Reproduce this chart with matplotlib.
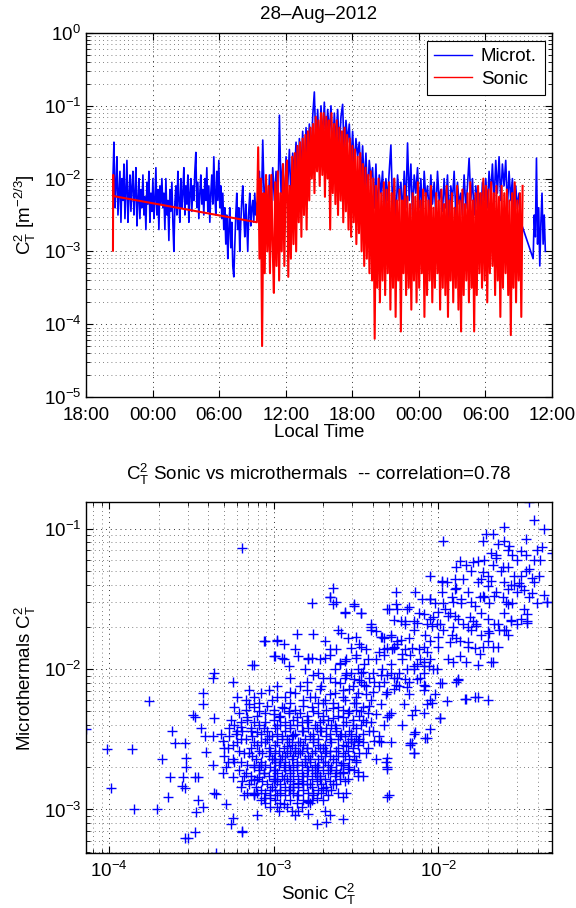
import numpy as np
import matplotlib
matplotlib.use("Agg")
import matplotlib.pyplot as plt
from matplotlib.ticker import LogLocator, NullFormatter, NullLocator

plt.rcParams['font.family'] = ['Liberation Sans', 'DejaVu Sans']
plt.rcParams['mathtext.default'] = 'regular'
plt.rcParams['font.size'] = 13.5

# ---- time series (log10 of C_T^2), time in hours after 18:00 of the day before ----
time_ticks = [0, 6, 12, 18, 24, 30, 36, 42]
time_labels = ["18:00", "00:00", "06:00", "12:00", "18:00", "00:00", "06:00", "12:00"]

# microthermals, night part (20:25 -> 09:25), denser sampling
microt_night_start, microt_night_step = 2.43, 0.09
microt_night_log = [
    -2.0, -1.5, -2.4, -2.1, -1.7, -2.5, -2.2, -1.9, -2.6, -2.0,
    -2.3, -1.8, -2.55, -2.15, -1.75, -2.6, -2.25, -1.95, -2.45, -2.1,
    -1.9, -2.5, -2.2, -1.85, -2.65, -2.3, -2.0, -2.55, -2.15, -2.4,
    -1.95, -2.5, -2.25, -2.7, -2.05, -2.35, -1.9, -2.6, -2.2, -2.45,
    -2.0, -2.55, -2.3, -1.85, -2.5, -2.15, -2.7, -2.1, -2.35, -2.0,
    -2.4, -2.2, -2.7, -2.0, -2.5, -2.3, -2.85, -2.15, -2.45, -2.05,
    -2.6, -3.0, -2.35, -2.1, -2.5, -1.9, -2.3, -2.6, -2.0, -2.4,
    -2.2, -1.85, -2.5, -2.1, -2.35, -1.95, -2.6, -2.2, -2.0, -2.45,
    -2.1, -2.3, -1.9, -1.64, -2.4, -2.05, -2.55, -2.2, -1.95, -2.35,
    -2.15, -2.5, -2.0, -2.3, -1.85, -2.45, -2.1, -2.6, -2.2, -1.95,
    -2.35, -1.7, -2.2, -2.5, -1.9, -2.3, -1.75, -2.4, -2.1, -2.55,
    -2.2, -2.7, -2.4, -2.9, -2.5, -3.1, -2.7, -2.4, -2.95, -2.6,
    -3.2, -3.35, -2.9, -2.5, -2.2, -2.7, -2.4, -3.0, -2.6, -2.3,
    -2.1, -2.5, -2.8, -2.35, -2.6, -3.0, -2.45, -2.2, -2.65, -2.4,
    -2.3, -2.6, -2.2, -2.5, -2.35,
]
# microthermals, day and following night (09:30 -> 09:20)
microt_day_start, microt_day_step = 15.48, 0.15
microt_day_log = [
    -2.3, -1.9, -2.6, -1.47, -2.4, -2.0, -2.8, -1.95,
    -2.5, -1.85, -2.3, -1.9, -2.6, -1.13, -2.2, -1.8,
    -2.4, -1.7, -2.1, -1.6, -2.3, -1.65, -2.0, -1.5,
    -2.2, -1.45, -1.9, -1.35, -2.1, -1.3, -1.8, -1.25,
    -1.9, -1.15, -0.81, -1.6, -1.05, -1.7, -1.0, -1.5,
    -0.95, -1.6, -1.05, -1.4, -1.0, -1.7, -1.1, -1.5,
    -1.05, -1.6, -1.15, -0.98, -1.7, -1.2, -1.5, -1.25,
    -1.8, -1.35, -1.9, -1.45, -1.7, -1.5, -2.0, -1.55,
    -2.1, -1.65, -2.3, -1.75, -2.0, -1.85, -2.4, -1.8,
    -2.5, -1.95, -2.2, -1.9, -2.6, -2.0, -2.3, -1.9,
    -1.54, -2.4, -2.0, -2.6, -1.95, -2.3, -2.05, -2.5,
    -1.9, -2.4, -1.51, -2.3, -1.8, -2.5, -1.95, -2.2,
    -1.85, -2.4, -2.0, -2.6, -1.9, -2.3, -2.1, -2.5,
    -1.95, -2.35, -2.05, -2.5, -1.9, -2.3, -2.15, -2.45,
    -2.0, -2.4, -1.95, -2.6, -2.1, -2.3, -1.9, -2.5,
    -2.05, -2.35, -2.2, -2.5, -1.95, -2.4, -2.1, -1.72,
    -2.3, -2.0, -2.5, -2.1, -2.4, -2.2, -2.55, -2.05,
    -2.3, -2.0, -2.4, -1.9, -2.25, -1.8, -2.35, -1.75,
    -2.2, -1.7, -2.3, -1.8, -2.1, -1.75, -2.4, -1.9,
    -2.3, -2.0, -2.5, -2.1, -2.4, -2.2, -2.6, -2.66,
]
# last piece after the gap (about 10:20-11:25)
microt_tail_start, microt_tail_step = 40.3, 0.1
microt_tail_log = [-3.1, -2.5, -2.8, -1.72, -2.9, -2.4, -3.2, -2.6, -2.2, -2.9, -2.5, -3.0]

# sonic: three early samples, then a gap, then dense data 09:24 -> 09:21 next day
sonic_early_t = [2.43, 2.45, 2.47]
sonic_early_log = [-2.99, -1.95, -2.24]
sonic_start, sonic_end = 15.4, 39.35
sonic_log = [
    -2.6, -1.57, -3.1, -2.0, -4.3, -2.2, -3.3, -1.95, -3.0, -2.1,
    -3.3, -1.95, -2.9, -3.57, -2.05, -3.2, -1.9, -3.4, -2.2, -3.0,
    -1.8, -3.2, -2.0, -1.75, -3.35, -2.1, -3.1, -1.7, -2.9, -1.65,
    -3.0, -1.55, -2.6, -1.5, -2.8, -1.45, -2.5, -1.4, -2.7, -1.35,
    -2.3, -1.3, -2.0, -1.25, -2.2, -1.15, -1.9, -1.2, -2.1, -1.1,
    -1.95, -1.1, -2.25, -1.15, -2.0, -1.2, -2.7, -1.1, -2.2, -1.25,
    -2.35, -1.2, -2.5, -1.3, -2.3, -1.35, -2.6, -1.3, -2.45, -1.4,
    -2.7, -1.45, -2.8, -1.55, -2.6, -1.6, -2.9, -1.7, -2.75, -1.65,
    -3.0, -1.8, -3.2, -1.85, -3.1, -1.95, -3.3, -1.9, -3.4, -2.0,
    -4.2, -2.1, -3.5, -2.0, -3.7, -2.2, -3.4, -2.05, -3.6, -2.15,
    -3.3, -2.05, -3.8, -2.2, -3.5, -2.0, -3.9, -2.3, -3.4, -2.15,
    -4.1, -2.3, -3.3, -2.1, -3.6, -2.25, -3.5, -2.35, -3.8, -2.2,
    -3.4, -2.25, -3.7, -2.05, -3.5, -2.3, -3.3, -2.15, -3.9, -2.2,
    -3.6, -2.3, -3.4, -2.1, -3.7, -2.4, -3.5, -2.2, -3.3, -2.3,
    -3.8, -2.15, -3.5, -2.35, -3.6, -2.1, -3.9, -2.3, -3.4, -2.2,
    -3.7, -2.4, -3.5, -2.1, -3.8, -2.3, -4.1, -2.15, -3.6, -2.35,
    -3.4, -2.2, -3.7, -2.05, -3.5, -2.3, -4.1, -2.2, -3.6, -2.1,
    -3.3, -2.2, -3.5, -2.0, -3.4, -2.1, -3.7, -2.15, -3.3, -2.05,
    -3.2, -2.2, -3.6, -2.1, -3.4, -2.25, -3.9, -2.1, -3.5, -2.2,
    -3.3, -2.15, -3.6, -2.3, -4.15, -2.2, -3.5, -2.05, -3.7, -2.3,
    -3.4, -2.2, -3.9, -2.1,
]

# ---- scatter: log10 of sonic C_T^2 vs log10 of microthermal C_T^2 ----
scatter_sonic_log = [
    -3.10, -3.05, -2.98, -2.92, -2.88, -2.84, -2.80, -2.76, -2.72, -2.68,
    -2.64, -2.60, -3.15, -3.08, -3.02, -2.96, -2.90, -2.85, -2.78, -2.74,
    -2.70, -2.66, -2.62, -2.56, -2.52, -2.48, -3.20, -3.12, -3.00, -2.94,
    -2.86, -2.82, -2.76, -2.70, -2.64, -2.58, -2.54, -2.50, -2.46, -2.44,
    -3.06, -3.00, -2.94, -2.88, -2.82, -2.78, -2.72, -2.68, -2.62, -2.58,
    -3.18, -3.24, -3.28, -3.22, -3.16, -3.04, -2.98, -2.90, -2.84, -2.78,
    -2.72, -2.66, -2.60, -2.54, -2.48, -2.42, -2.40, -2.44, -2.50, -2.55,
    -3.12, -3.06, -3.00, -2.95, -2.90, -2.86, -2.80, -2.74, -2.70, -2.66,
    -2.62, -2.58, -2.53, -2.93, -2.97, -3.03, -2.83, -2.77, -2.69, -2.87,
    -3.09, -3.14, -2.99, -2.91, -2.81, -2.73, -2.65, -2.57, -2.51, -2.47,
    -3.26, -3.32, -3.30, -3.20, -3.10, -3.02, -2.96, -2.86, -2.76, -2.64,
    -2.56, -2.46, -2.38, -2.36, -2.38, -2.40, -2.46, -2.56, -2.66, -2.76,
    -4.14, -4.01, -3.86, -3.99, -3.85, -3.71, -3.76, -3.68, -3.63, -3.64,
    -3.55, -3.56, -3.54, -3.53, -3.53, -3.60, -3.54, -3.62, -3.49, -3.48,
    -3.46, -3.46, -3.47, -3.43, -3.54, -3.52, -3.48, -3.35, -3.26, -3.25,
    -3.29, -3.19, -3.36, -3.37, -3.43, -3.43, -3.48, -3.44, -3.42, -3.41,
    -3.37, -3.36, -3.35, -3.29, -3.28, -3.31, -3.25, -3.25, -3.22, -3.24,
    -3.15, -3.15, -3.27, -3.20, -3.36, -3.37, -3.31, -3.18, -3.12, -3.06,
    -3.12, -3.12, -3.09, -2.98, -2.94, -2.98, -2.85, -2.79, -2.74, -2.79,
    -2.74, -3.19,
    -2.68, -2.58, -2.69, -2.79, -2.77, -2.58, -2.31, -2.31, -2.32, -2.16,
    -2.15, -2.17, -2.14, -2.07, -2.05, -2.29, -2.35, -2.39, -2.49, -2.49,
    -2.58, -2.54, -2.74, -2.85,
    -2.77, -2.64, -2.66, -2.62, -2.57, -2.51, -2.47, -2.86, -3.06, -2.98,
    -2.94, -2.87, -2.99, -2.95, -2.85, -2.79, -2.77, -3.12, -2.91, -2.69,
    -2.61, -2.59, -2.66, -2.69, -2.53, -2.47, -2.50, -2.41, -2.41, -2.38,
    -2.57, -2.50, -2.43, -2.60, -2.36, -2.31, -2.25, -2.27, -2.20, -2.29,
    -2.34, -2.47, -2.53, -2.51, -2.45, -2.39, -2.31, -2.25, -2.27, -2.19,
    -2.13, -2.09, -2.09, -2.15, -2.06, -2.01, -1.98, -2.04, -1.99, -2.15,
    -2.08, -2.17, -2.15, -2.31, -2.31, -2.30, -2.09, -2.14, -2.29, -2.31,
    -2.41, -2.36, -2.43, -2.49, -2.53, -2.50, -2.58, -2.66, -2.60, -2.74,
    -2.70, -2.82, -2.90, -3.02, -3.12, -3.14, -3.09, -2.99,
    -1.45, -1.42, -1.36, -1.60, -1.97, -1.71, -1.67, -1.73, -1.47, -1.37,
    -1.31, -1.42, -1.64, -1.60, -1.57, -1.55, -1.50, -1.68, -1.65, -1.87,
    -1.89, -1.83, -1.79, -1.76, -1.67, -1.61, -1.58, -1.50, -1.45, -1.43,
    -1.73, -1.74, -1.85, -1.90, -2.05, -1.98, -1.68, -1.70, -1.73, -1.72,
    -1.66, -1.58, -1.56, -1.54, -1.51, -1.50, -1.59, -1.58, -1.48, -1.43,
    -1.36, -1.34, -1.90, -1.89, -1.86, -1.80, -1.78, -1.91, -1.96, -2.14,
    -2.10, -2.05, -2.31, -2.26, -2.25, -2.19, -2.18, -2.09, -2.03, -2.00,
    -2.27, -2.23, -2.15, -2.13, -2.07, -2.04, -1.99, -1.94, -1.90, -1.91,
    -1.81, -1.79, -1.77, -1.77, -1.82, -1.70, -1.69, -1.64, -1.59, -1.56,
    -1.48, -1.46, -1.46, -2.35, -2.29, -2.23, -2.16, -2.09, -2.07, -2.00,
    -1.93, -1.89, -1.82, -1.78, -1.75, -1.73, -1.67, -1.94, -1.91, -1.87,
    -1.83, -1.76, -1.68, -1.89, -2.33, -2.27, -2.22, -2.11, -2.15, -2.09,
    -2.20, -2.09, -1.99, -1.88, -1.76, -1.83, -2.29, -2.26, -2.35, -2.31,
    -3.19, -1.98, -3.13, -3.05, -2.98, -3.00, -2.94, -2.79, -2.76, -2.64,
    -2.66, -2.57, -2.51, -2.47, -2.41, -2.30, -2.20, -2.26, -2.05, -1.97,
    -1.34, -1.46, -1.56, -1.60, -1.67, -1.70, -1.78, -1.84, -1.88, -1.99,
    -1.95, -2.05,
]
scatter_microt_log = [
    -2.45, -2.52, -2.40, -2.55, -2.47, -2.60, -2.38, -2.50, -2.44, -2.58,
    -2.35, -2.48, -2.60, -2.68, -2.58, -2.66, -2.72, -2.52, -2.64, -2.70,
    -2.56, -2.62, -2.42, -2.55, -2.40, -2.50, -2.50, -2.38, -2.32, -2.28,
    -2.34, -2.26, -2.30, -2.24, -2.28, -2.20, -2.30, -2.24, -2.36, -2.18,
    -2.74, -2.80, -2.78, -2.84, -2.76, -2.82, -2.78, -2.86, -2.74, -2.68,
    -2.76, -2.66, -2.56, -2.44, -2.34, -2.26, -2.20, -2.16, -2.12, -2.20,
    -2.14, -2.18, -2.10, -2.14, -2.08, -2.26, -2.44, -2.60, -2.66, -2.78,
    -2.52, -2.42, -2.64, -2.50, -2.40, -2.68, -2.56, -2.42, -2.36, -2.50,
    -2.58, -2.34, -2.46, -2.62, -2.34, -2.48, -2.44, -2.72, -2.66, -2.58,
    -2.30, -2.44, -2.72, -2.30, -2.66, -2.54, -2.40, -2.62, -2.52, -2.30,
    -2.36, -2.46, -2.62, -2.84, -2.88, -2.92, -2.86, -2.90, -2.88, -2.82,
    -2.88, -2.76, -2.64, -2.48, -2.32, -2.16, -2.02, -2.04, -2.06, -2.04,
    -2.43, -2.57, -2.57, -2.85, -3.00, -3.00, -2.23, -2.64, -2.77, -2.91,
    -2.77, -2.83, -2.85, -2.63, -2.70, -2.53, -2.53, -2.44, -2.33, -2.77,
    -2.77, -2.93, -3.02, -2.98, -3.20, -3.20, -3.16, -3.31, -3.10, -3.06,
    -2.96, -3.15, -2.03, -2.06, -2.17, -2.25, -2.34, -2.42, -2.48, -2.59,
    -2.68, -2.88, -2.89, -2.70, -2.66, -2.74, -2.77, -2.09, -2.20, -2.27,
    -2.15, -2.25, -2.42, -2.41, -2.35, -2.48, -2.51, -2.90, -2.89, -2.92,
    -2.68, -2.79, -2.77, -2.90, -2.96, -2.98, -3.01, -3.03, -3.10, -2.95,
    -2.92, -3.16,
    -3.09, -3.07, -3.01, -2.94, -2.93, -2.91, -2.91, -2.71, -2.66, -2.53,
    -2.60, -2.54, -2.45, -2.49, -2.43, -2.52, -2.52, -2.51, -2.73, -2.76,
    -2.73, -2.71, -2.74, -2.81,
    -1.53, -1.42, -1.49, -1.52, -1.59, -1.54, -1.60, -1.75, -1.80, -1.79,
    -1.82, -1.86, -1.91, -1.92, -1.91, -1.92, -1.92, -1.97, -1.98, -1.80,
    -1.72, -1.74, -1.86, -1.92, -1.85, -1.84, -1.77, -1.68, -1.72, -1.73,
    -1.94, -1.92, -1.93, -1.96, -1.88, -1.85, -1.80, -1.84, -1.86, -1.77,
    -1.77, -2.03, -2.03, -2.07, -2.11, -2.09, -2.04, -2.06, -2.14, -2.13,
    -2.07, -2.15, -1.95, -1.98, -1.98, -2.00, -2.10, -2.24, -2.35, -2.46,
    -2.49, -2.53, -2.60, -2.63, -2.70, -2.90, -2.31, -2.29, -2.31, -2.34,
    -2.38, -2.51, -2.56, -2.51, -2.52, -2.65, -2.67, -2.72, -2.74, -2.76,
    -2.85, -2.82, -2.86, -2.86, -2.88, -2.79, -2.70, -2.78,
    -0.81, -0.94, -1.00, -0.99, -1.09, -1.04, -1.04, -1.09, -1.07, -1.13,
    -1.17, -1.22, -1.11, -1.09, -1.12, -1.19, -1.16, -1.17, -1.21, -1.23,
    -1.27, -1.26, -1.24, -1.23, -1.26, -1.27, -1.27, -1.34, -1.29, -1.35,
    -1.31, -1.36, -1.36, -1.36, -1.34, -1.37, -1.37, -1.41, -1.48, -1.49,
    -1.48, -1.43, -1.40, -1.40, -1.39, -1.41, -1.52, -1.54, -1.44, -1.46,
    -1.47, -1.52, -1.43, -1.42, -1.50, -1.52, -1.55, -1.52, -1.57, -1.45,
    -1.50, -1.50, -1.57, -1.54, -1.57, -1.57, -1.56, -1.61, -1.63, -1.59,
    -1.65, -1.66, -1.66, -1.67, -1.68, -1.69, -1.68, -1.62, -1.62, -1.70,
    -1.63, -1.66, -1.69, -1.68, -1.70, -1.73, -1.74, -1.68, -1.72, -1.65,
    -1.57, -1.61, -1.66, -1.77, -1.76, -1.79, -1.85, -1.84, -1.88, -1.77,
    -1.81, -1.78, -1.81, -1.85, -1.89, -1.84, -1.84, -1.93, -1.95, -1.91,
    -1.95, -1.97, -1.95, -2.09, -1.86, -1.85, -1.89, -1.93, -2.00, -1.98,
    -2.07, -2.11, -2.10, -2.07, -2.20, -2.21, -2.03, -2.11, -2.04, -2.16,
    -1.14, -1.38, -1.97, -1.80, -1.80, -1.91, -1.93, -1.93, -1.75, -1.54,
    -1.49, -1.60, -1.55, -1.60, -1.70, -1.57, -1.66, -1.45, -1.50, -1.53,
    -1.52, -1.67, -1.66, -1.72, -1.95, -2.22, -2.20, -2.21, -2.08, -2.35,
    -2.23, -2.22,
]

# extra points of the dense core, the middle and the upper branch,
# read row by row: microthermal level -> sonic values on that row
core_rows_microt = [
    -2.12, -2.17, -2.22, -2.27, -2.31, -2.36, -2.40, -2.44, -2.48, -2.52,
    -2.56, -2.60, -2.64, -2.68, -2.72, -2.76, -2.80, -2.84, -2.88, -2.93,
    -2.98, -3.04,
    -2.15, -2.20, -2.245, -2.29, -2.335, -2.38, -2.42, -2.46, -2.50, -2.54,
    -2.58, -2.62, -2.66, -2.70, -2.74, -2.78, -2.82, -2.86, -2.90, -2.955,
    -3.01,
    -1.78, -1.86, -1.93, -2.00, -2.06, -2.12, -2.18, -2.25, -2.33, -2.40,
    -1.82, -1.90, -1.965, -2.03, -2.09,
    -1.15, -1.22, -1.30, -1.38, -1.45, -1.53, -1.60, -1.68, -1.76, -1.84,
    -1.19, -1.34, -1.49, -1.64, -1.72, -1.80,
]
core_rows_sonic = [
    [-2.98, -2.71, -2.52, -2.44],
    [-3.08, -2.87, -2.63, -2.49],
    [-3.17, -3.01, -2.82, -2.69, -2.57, -2.41],
    [-3.12, -2.95, -2.77, -2.61, -2.46],
    [-3.21, -3.05, -2.91, -2.84, -2.73, -2.55, -2.43],
    [-3.16, -3.00, -2.88, -2.79, -2.67, -2.52],
    [-3.24, -3.09, -2.96, -2.86, -2.75, -2.63, -2.58, -2.47],
    [-3.19, -3.04, -2.93, -2.82, -2.71, -2.62, -2.54, -2.42],
    [-3.27, -3.13, -3.01, -2.95, -2.89, -2.78, -2.68, -2.57, -2.50],
    [-3.22, -3.08, -2.98, -2.91, -2.84, -2.76, -2.65, -2.55, -2.46],
    [-3.30, -3.14, -3.03, -2.94, -2.87, -2.80, -2.72, -2.61, -2.52],
    [-3.18, -3.07, -2.99, -2.92, -2.85, -2.77, -2.69, -2.58, -2.48],
    [-3.25, -3.11, -3.01, -2.96, -2.89, -2.81, -2.73, -2.64, -2.54],
    [-3.16, -3.05, -2.97, -2.91, -2.83, -2.75, -2.67, -2.59],
    [-3.21, -3.09, -3.00, -2.93, -2.86, -2.79, -2.70, -2.62, -2.51],
    [-3.14, -3.03, -2.95, -2.88, -2.80, -2.72, -2.63],
    [-3.19, -3.07, -2.98, -2.90, -2.83, -2.74, -2.66, -2.57],
    [-3.11, -3.01, -2.93, -2.85, -2.77, -2.68],
    [-3.16, -3.05, -2.96, -2.88, -2.79, -2.71, -2.61],
    [-3.08, -2.99, -2.90, -2.82, -2.70],
    [-3.02, -2.92, -2.83],
    [-3.10, -2.87, -2.66],
    [-3.03, -2.80, -2.58],
    [-3.12, -2.93, -2.75, -2.50],
    [-3.09, -2.90, -2.73, -2.64, -2.51],
    [-3.17, -3.00, -2.87, -2.68, -2.58, -2.50],
    [-3.10, -2.96, -2.80, -2.70, -2.61, -2.48],
    [-3.20, -3.05, -2.93, -2.83, -2.72, -2.56, -2.44],
    [-3.14, -2.99, -2.90, -2.79, -2.68, -2.50],
    [-3.23, -3.08, -2.98, -2.87, -2.76, -2.66, -2.59, -2.46],
    [-3.17, -3.04, -2.92, -2.81, -2.73, -2.61, -2.53],
    [-3.25, -3.10, -2.99, -2.89, -2.82, -2.69, -2.58, -2.49],
    [-3.21, -3.09, -2.97, -2.90, -2.83, -2.75, -2.66, -2.55],
    [-3.13, -3.03, -2.95, -2.88, -2.79, -2.71, -2.61, -2.51],
    [-3.20, -3.08, -2.99, -2.93, -2.86, -2.78, -2.70, -2.62],
    [-3.12, -3.02, -2.94, -2.88, -2.80, -2.73, -2.65, -2.55],
    [-3.17, -3.06, -2.98, -2.90, -2.83, -2.75, -2.67, -2.58],
    [-3.10, -3.00, -2.92, -2.85, -2.77, -2.69, -2.60],
    [-3.15, -3.04, -2.96, -2.88, -2.80, -2.71, -2.62],
    [-3.08, -2.99, -2.91, -2.82, -2.73, -2.65],
    [-3.12, -3.02, -2.93, -2.85, -2.76, -2.67],
    [-3.05, -2.96, -2.86, -2.78],
    [-2.97, -2.89],
    [-2.55, -2.33, -2.18],
    [-2.62, -2.44, -2.28, -2.12],
    [-2.72, -2.56, -2.38, -2.22, -2.05],
    [-2.81, -2.63, -2.49, -2.34, -2.19, -2.03],
    [-2.90, -2.70, -2.57, -2.42, -2.27, -2.11],
    [-2.36, -2.24, -2.08],
    [-2.32, -2.18, -2.02],
    [-2.35, -2.21, -2.07],
    [-2.30, -2.16],
    [-2.33, -2.22],
    [-2.48, -2.25],
    [-2.66, -2.50, -2.33, -2.17],
    [-2.60, -2.45, -2.29, -2.13],
    [-2.73, -2.56, -2.40, -2.24, -2.09],
    [-2.80, -2.63, -2.47, -2.33, -2.18],
    [-1.58, -1.40],
    [-1.72, -1.52, -1.38],
    [-1.80, -1.62, -1.47],
    [-1.95, -1.76, -1.60, -1.42],
    [-1.98, -1.82, -1.65, -1.52],
    [-2.02, -1.86, -1.69, -1.55, -1.40],
    [-2.12, -1.93, -1.74, -1.60],
    [-2.20, -2.01, -1.85, -1.66, -1.52],
    [-2.08, -1.92, -1.74, -1.58],
    [-2.00, -1.82, -1.64],
    [-1.65, -1.47],
    [-1.70, -1.54, -1.39],
    [-1.92, -1.75, -1.61, -1.45],
    [-2.05, -1.88, -1.70, -1.50],
    [-2.15, -1.97, -1.80, -1.63],
    [-2.05, -1.87, -1.70],
]

fig = plt.figure(figsize=(5.76, 9.08), dpi=100)
ax1 = fig.add_axes([86 / 576, (908 - 397) / 908, 466 / 576, 364 / 908])
ax2 = fig.add_axes([86 / 576, (908 - 853) / 908, 466 / 576, 351 / 908])

# ---- top: time series ----
t_microt = np.concatenate([
    microt_night_start + microt_night_step * np.arange(len(microt_night_log)),
    microt_day_start + microt_day_step * np.arange(len(microt_day_log)),
    microt_tail_start + microt_tail_step * np.arange(len(microt_tail_log)),
])
c_microt = 10.0 ** np.array(microt_night_log + microt_day_log + microt_tail_log)
t_sonic = np.concatenate([sonic_early_t, np.linspace(sonic_start, sonic_end, len(sonic_log))])
c_sonic = 10.0 ** np.array(sonic_early_log + sonic_log)

ax1.semilogy(t_microt, c_microt, color='#0000ff', lw=1.2, label='Microt.')
ax1.semilogy(t_sonic, c_sonic, color='#ff0000', lw=1.5, label='Sonic')
ax1.set_xlim(0, 42)
ax1.set_ylim(1e-5, 1)
ax1.set_xticks(time_ticks)
ax1.set_xticklabels(time_labels)
ax1.xaxis.set_minor_locator(NullLocator())
ax1.yaxis.set_major_locator(LogLocator(base=10, numticks=10))
ax1.yaxis.set_minor_locator(LogLocator(base=10, subs=np.arange(2, 10), numticks=20))
ax1.yaxis.set_minor_formatter(NullFormatter())
ax1.set_title('28\u2013Aug\u20132012', fontsize=13.5, pad=10)
ax1.set_xlabel('Local Time', labelpad=0)
ax1.set_ylabel('C$_T^2$ [m$^{-2/3}$]', labelpad=4)
ax1.tick_params(axis='x', pad=7)
leg = ax1.legend(loc='upper right', fancybox=False, framealpha=1, edgecolor='black',
                 handlelength=2.0, borderaxespad=0.4, labelspacing=0.3, handletextpad=0.5)
leg.get_frame().set_linewidth(0.8)
for line in leg.get_lines():
    line.set_linewidth(1.0)

# ---- bottom: scatter ----
sx = list(scatter_sonic_log)
sy = list(scatter_microt_log)
for yv, row in zip(core_rows_microt, core_rows_sonic):
    sx += row
    sy += [yv] * len(row)
x_sc = 10.0 ** np.array(sx)
y_sc = 10.0 ** np.array(sy)
ax2.loglog(x_sc, y_sc, '+', color='#0000ff', markersize=6.5, markeredgewidth=1.0)
ax2.set_xlim(x_sc.min(), x_sc.max())
ax2.set_ylim(y_sc.min(), y_sc.max())
for a in (ax2.xaxis, ax2.yaxis):
    a.set_major_locator(LogLocator(base=10, numticks=10))
    a.set_minor_locator(LogLocator(base=10, subs=np.arange(2, 10), numticks=20))
    a.set_minor_formatter(NullFormatter())
ax2.set_title('C$_T^2$ Sonic vs microthermals  -- correlation=0.78', fontsize=13.5, pad=16)
ax2.set_xlabel('Sonic C$_T^2$', labelpad=0)
ax2.set_ylabel('Microthermals C$_T^2$', labelpad=4)
ax2.tick_params(axis='x', pad=6)

for ax in (ax1, ax2):
    ax.grid(True, which='major', linestyle=(0, (1, 4)), color='0.2', lw=0.7)
    ax.grid(True, which='minor', linestyle=(0, (1, 4)), color='0.35', lw=0.6)
    ax.tick_params(which='both', direction='in', top=True, right=True, color='black')
    ax.tick_params(which='major', length=5)
    ax.tick_params(which='minor', length=3)
    for s in ax.spines.values():
        s.set_linewidth(1.0)
ax1.grid(False, which='minor', axis='x')

fig.savefig('out.png', dpi=100)
